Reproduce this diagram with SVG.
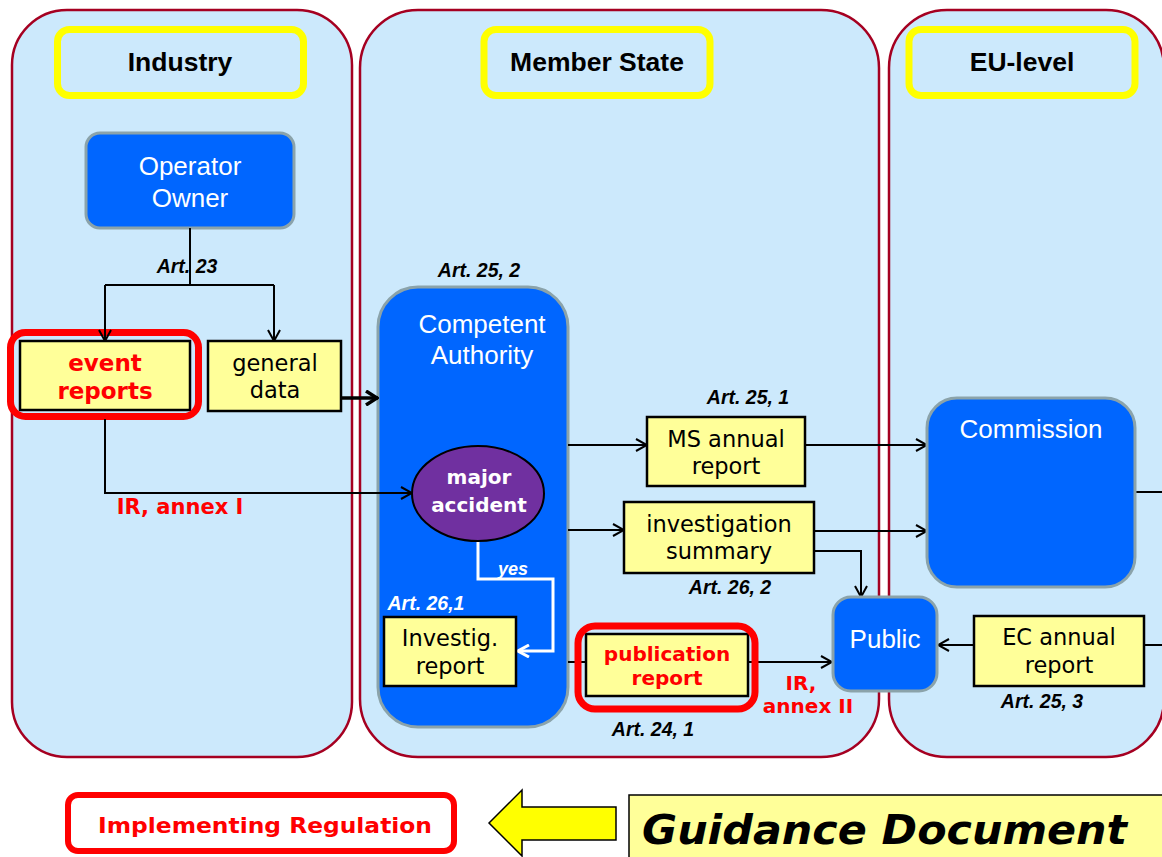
<svg xmlns="http://www.w3.org/2000/svg" width="1162" height="857" viewBox="0 0 1162 857">
<defs>
<style>
.panel{fill:#cce9fc;stroke:#a50021;stroke-width:2.5}
.hdr{fill:none;stroke:#ffff00;stroke-width:7}
.hdrt{font-family:"Liberation Sans",Arial,sans-serif;font-weight:bold;font-size:26.5px;fill:#000;text-anchor:middle}
.blue{fill:#0066ff;stroke:#8ba3aa;stroke-width:3}
.bt{font-family:"Liberation Sans",Arial,sans-serif;font-size:26px;fill:#fff;text-anchor:middle}
.yb{fill:#ffff99;stroke:#000;stroke-width:2.5}
.yt{font-family:"DejaVu Sans",Verdana,sans-serif;font-size:22.5px;fill:#000;text-anchor:middle}
.rt{font-family:"DejaVu Sans",Verdana,sans-serif;font-weight:bold;font-size:20px;fill:#ff0000;text-anchor:middle}
.redb{fill:none;stroke:#ff0000;stroke-width:7}
.art{font-family:"Liberation Sans",Arial,sans-serif;font-weight:bold;font-style:italic;font-size:19.5px;fill:#000;text-anchor:middle}
.ln{fill:none;stroke:#000;stroke-width:2}
</style>
<marker id="ar" viewBox="0 0 13 14" refX="12" refY="7" markerWidth="13" markerHeight="14" orient="auto" markerUnits="userSpaceOnUse"><path d="M1,1 L12,7 L1,13" fill="none" stroke="#000" stroke-width="2"/></marker>
<marker id="arw" viewBox="0 0 13 14" refX="12" refY="7" markerWidth="13" markerHeight="14" orient="auto" markerUnits="userSpaceOnUse"><path d="M1,1 L12,7 L1,13" fill="none" stroke="#fff" stroke-width="3"/></marker>
<marker id="art" viewBox="0 0 14 16" refX="13" refY="8" markerWidth="14" markerHeight="16" orient="auto" markerUnits="userSpaceOnUse"><path d="M1,1 L12,8 L1,15" fill="none" stroke="#000" stroke-width="3.5"/></marker>
</defs>

<g id="panel-industry">
<rect class="panel" x="12" y="10" width="340" height="747" rx="55"/>
<rect class="hdr" x="57.5" y="29.5" width="246" height="66" rx="12"/>
<text class="hdrt" x="180" y="71">Industry</text>
</g>
<g id="panel-ms">
<rect class="panel" x="360" y="10" width="519" height="747" rx="58"/>
<rect class="hdr" x="484" y="29.5" width="226" height="66" rx="12"/>
<text class="hdrt" x="597" y="71">Member State</text>
</g>
<g id="panel-eu">
<rect class="panel" x="889" y="10" width="275" height="747" rx="58"/>
<rect class="hdr" x="909" y="29.5" width="226" height="66" rx="12"/>
<text class="hdrt" x="1022" y="71">EU-level</text>
</g>

<g id="operator-owner">
<rect class="blue" x="86" y="133" width="208" height="95" rx="14"/>
<text class="bt" x="190" y="175">Operator</text>
<text class="bt" x="190" y="207">Owner</text>
</g>

<g id="event-reports">
<rect class="yb" x="20" y="341" width="170" height="69"/>
<rect class="redb" x="10.5" y="332.5" width="188" height="84" rx="15"/>
<text class="rt" x="105" y="371" style="font-size:23px">event</text>
<text class="rt" x="105" y="399" style="font-size:23px">reports</text>
</g>
<g id="general-data">
<rect class="yb" x="208" y="341" width="133" height="70"/>
<text class="yt" x="275" y="371">general</text>
<text class="yt" x="275" y="398">data</text>
</g>

<g id="competent-authority">
<rect class="blue" x="378" y="287" width="190" height="440" rx="40"/>
<text class="bt" x="482" y="333">Competent</text>
<text class="bt" x="482" y="364">Authority</text>
</g>

<g id="connectors">
<path class="ln" d="M190,228 V285"/>
<path class="ln" d="M105,285 H274"/>
<path class="ln" d="M105,285 V341" marker-end="url(#ar)"/>
<path class="ln" d="M274,285 V341" marker-end="url(#ar)"/>
<path d="M341,398 H378" fill="none" stroke="#000" stroke-width="3.5" marker-end="url(#art)"/>
<path class="ln" d="M105,419 V493 H412" marker-end="url(#ar)"/>
<path class="ln" d="M568,445 H647" marker-end="url(#ar)"/>
<path class="ln" d="M568,530 H624" marker-end="url(#ar)"/>
<path class="ln" d="M805,445 H927" marker-end="url(#ar)"/>
<path class="ln" d="M814,531 H927" marker-end="url(#ar)"/>
<path class="ln" d="M814,551 H861 V597" marker-end="url(#ar)"/>
<path class="ln" d="M1135,492 H1162"/>
<path class="ln" d="M1144,645 H1162"/>
<path class="ln" d="M973,645 H938" marker-end="url(#ar)"/>
<path class="ln" d="M568,662 H586"/>
<path class="ln" d="M748,662 H832" marker-end="url(#ar)"/>
<path d="M478,541 V579 H553 V651 H518" fill="none" stroke="#fff" stroke-width="3" marker-end="url(#arw)"/>
</g>

<text class="art" x="187" y="273">Art. 23</text>
<text class="rt" x="180" y="514" style="font-size:21px">IR, annex I</text>
<text class="art" x="479" y="277">Art. 25, 2</text>

<g id="major-accident">
<ellipse cx="478" cy="493.5" rx="66" ry="47.5" fill="#7030a0" stroke="#000" stroke-width="2"/>
<text class="rt" x="479" y="484" style="fill:#fff">major</text>
<text class="rt" x="479" y="512" style="fill:#fff">accident</text>
</g>
<text class="art" x="513" y="575" style="fill:#fff;font-size:18px">yes</text>
<text class="art" x="426" y="610" style="fill:#fff">Art. 26,1</text>
<g id="investig-report">
<rect class="yb" x="384" y="617" width="132" height="69"/>
<text class="yt" x="450" y="646">Investig.</text>
<text class="yt" x="450" y="674">report</text>
</g>

<text class="art" x="748" y="404">Art. 25, 1</text>
<g id="ms-annual-report">
<rect class="yb" x="647" y="417" width="158" height="69"/>
<text class="yt" x="726" y="447">MS annual</text>
<text class="yt" x="726" y="474">report</text>
</g>
<g id="investigation-summary">
<rect class="yb" x="624" y="502" width="190" height="71"/>
<text class="yt" x="719" y="532">investigation</text>
<text class="yt" x="719" y="559">summary</text>
</g>
<text class="art" x="730" y="594">Art. 26, 2</text>

<g id="publication-report">
<rect class="yb" x="586" y="634" width="162" height="62"/>
<rect class="redb" x="578" y="626" width="177" height="83" rx="17"/>
<text class="rt" x="667" y="661">publication</text>
<text class="rt" x="667" y="685">report</text>
</g>
<text class="art" x="653" y="736">Art. 24, 1</text>
<text class="rt" x="801" y="690">IR,</text>
<text class="rt" x="808" y="713">annex II</text>

<g id="commission">
<rect class="blue" x="927" y="398" width="208" height="189" rx="30"/>
<text class="bt" x="1031" y="438">Commission</text>
</g>
<g id="public">
<rect class="blue" x="833" y="597" width="104" height="94" rx="18"/>
<text class="bt" x="885" y="648">Public</text>
</g>
<g id="ec-annual-report">
<rect class="yb" x="974" y="616" width="170" height="70"/>
<text class="yt" x="1059" y="645">EC annual</text>
<text class="yt" x="1059" y="673">report</text>
</g>
<text class="art" x="1042" y="708">Art. 25, 3</text>

<g id="implementing-regulation">
<rect x="68" y="795" width="386" height="56" rx="10" fill="#fff" stroke="#ff0000" stroke-width="6"/>
<text x="265" y="833" font-family="DejaVu Sans,Verdana,sans-serif" font-weight="bold" font-size="21" fill="#ff0000" text-anchor="middle" textLength="334" lengthAdjust="spacingAndGlyphs">Implementing Regulation</text>
</g>
<g id="yellow-arrow">
<path d="M489,823 L522,790 V807 H616 V840 H522 V856 Z" fill="#ffff00" stroke="#000" stroke-width="1.5"/>
</g>
<g id="guidance-document">
<rect x="629" y="795" width="540" height="70" fill="#ffff99" stroke="#000" stroke-width="1.5"/>
<text x="642" y="844" font-family="DejaVu Sans,Verdana,sans-serif" font-weight="bold" font-style="italic" font-size="40" fill="#000" textLength="485" lengthAdjust="spacingAndGlyphs">Guidance Document</text>
</g>
</svg>
